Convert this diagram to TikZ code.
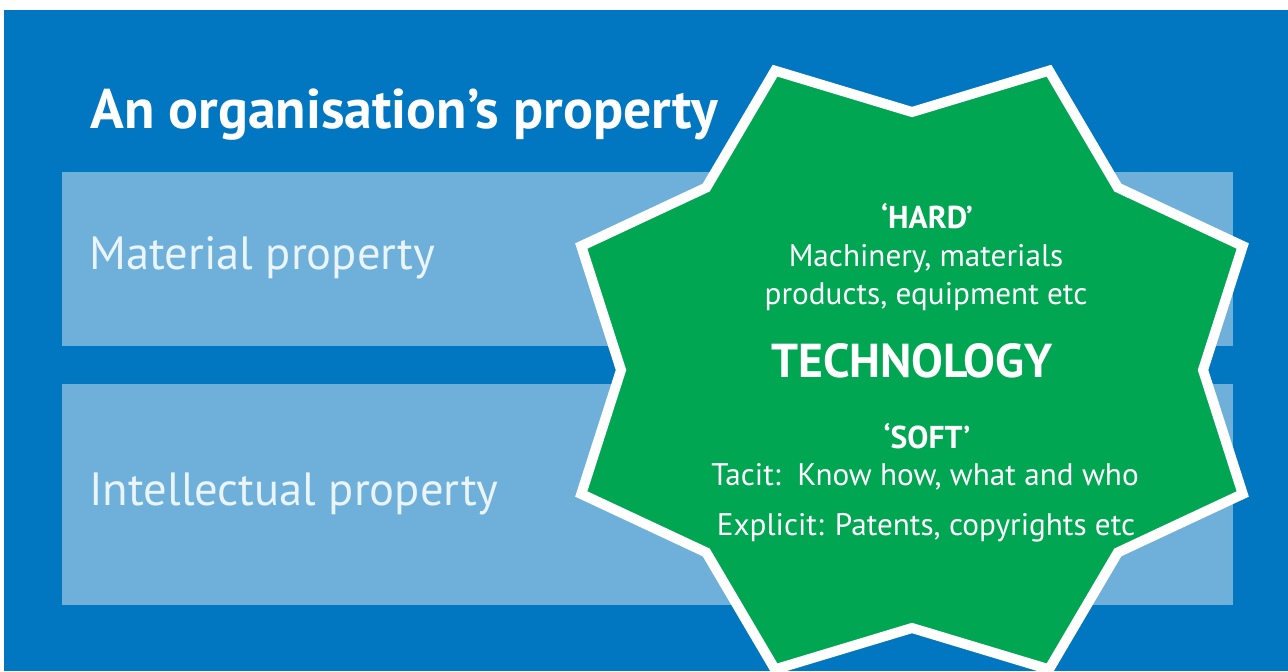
\documentclass[tikz,border=0pt]{standalone}
\usepackage{fontspec}
\setmainfont{PT Sans}
\usetikzlibrary{positioning}
\definecolor{orgblue}{RGB}{0,119,192}
\definecolor{propblue}{RGB}{110,176,218}
\definecolor{techgreen}{RGB}{0,166,81}
\definecolor{paletext}{RGB}{234,244,251}

\begin{document}
\begin{tikzpicture}[x=0.5pt, y=-0.5pt]
    \tikzset{
      propbox/.style={fill=propblue, draw=none, minimum width=585.5pt, inner sep=0pt},
      proplabel/.style={anchor=base west, text=paletext, inner sep=0pt, font=\fontsize{23.3}{28}\selectfont},
      techtext/.style={anchor=base, text=white, inner sep=0pt, font=\fontsize{15.6}{18}\selectfont},
      techhead/.style={techtext, font=\fontsize{15.8}{18}\selectfont\bfseries}
    }
    \useasboundingbox (0,0) rectangle (1288,671);
    \fill[white] (0,0) rectangle (1288,671);
    \fill[orgblue] (4,10) rectangle (1288,671);

    % Title and the two kinds of property
    \node[anchor=base west, text=white, inner sep=0pt, font=\fontsize{27.9}{33}\selectfont\bfseries] (title) at (90,128) {An organisation’s property};
    \node[propbox, minimum height=87pt]   (material)     at (647.5,259)   {};
    \node[propbox, minimum height=110.5pt] (intellectual) at (647.5,494.5) {};
    \node[proplabel] (materiallabel)     at (89,269) {Material property};
    \node[proplabel] (intellectuallabel) at (89,505) {Intellectual property};

    % Technology star
    \coordinate (tech) at (912,370);
    \filldraw[fill=techgreen, draw=white, line width=5pt, line join=miter]
      ([shift={(tech)}] 22.5:358 and 324)
      \foreach \a in {45,90,...,360} {
        -- ([shift={(tech)}] \a:291 and 258)
        -- ([shift={(tech)}] \a+22.5:358 and 324)
      } -- cycle;

    % Star texts
    \node[techhead] (hard)     at (927,228) {‘HARD’};
    \node[techtext] (hardone)  at (926,266) {Machinery, materials};
    \node[techtext] (hardtwo)  at (926,304) {products, equipment etc};
    \node[techtext, font=\fontsize{23.8}{28}\selectfont\bfseries] (technology) at (912,377) {TECHNOLOGY};
    \node[techhead] (soft)     at (927,448) {‘SOFT’};
    \node[techtext] (softone)  at (925,485) {Tacit:\ \ Know how, what and who};
    \node[techtext] (softtwo)  at (926,535) {Explicit: Patents, copyrights etc};
\end{tikzpicture}
\end{document}
